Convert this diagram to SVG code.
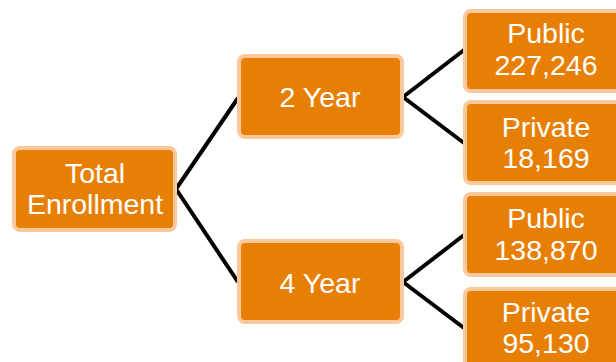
<svg xmlns="http://www.w3.org/2000/svg" width="616" height="362" viewBox="0 0 616 362">
<style>
.box{fill:#E87F05;stroke:#FBC89D;stroke-width:4}
.t{font-family:"Liberation Sans",Arial,sans-serif;font-size:28.5px;fill:#fff;text-anchor:middle}
.c{stroke:#000;stroke-width:4;fill:none}
</style>
<rect width="616" height="362" fill="#fff"/>
<g id="connectors">
<path class="c" d="M176,189 L238,98 M176,189 L238,282"/>
<path class="c" d="M403,97 L464,50 M403,97 L464,143"/>
<path class="c" d="M403,282 L464,235 M403,282 L464,328"/>
</g>
<g id="total">
<rect class="box" x="14" y="148" width="161" height="82" rx="6"/>
<text class="t" x="95" y="183">Total</text>
<text class="t" x="95" y="214">Enrollment</text>
</g>
<g id="year2">
<rect class="box" x="239" y="56" width="163" height="81" rx="6"/>
<text class="t" x="320" y="107">2 Year</text>
</g>
<g id="year4">
<rect class="box" x="239" y="241" width="163" height="81" rx="6"/>
<text class="t" x="320" y="293">4 Year</text>
</g>
<g id="public2">
<rect class="box" x="465" y="11" width="163" height="80" rx="6"/>
<text class="t" x="546" y="43">Public</text>
<text class="t" x="546" y="75">227,246</text>
</g>
<g id="private2">
<rect class="box" x="465" y="102" width="163" height="81" rx="6"/>
<text class="t" x="546" y="137">Private</text>
<text class="t" x="546" y="168">18,169</text>
</g>
<g id="public4">
<rect class="box" x="465" y="194" width="163" height="81" rx="6"/>
<text class="t" x="546" y="228">Public</text>
<text class="t" x="546" y="260">138,870</text>
</g>
<g id="private4">
<rect class="box" x="465" y="289" width="163" height="81" rx="6"/>
<text class="t" x="546" y="322">Private</text>
<text class="t" x="546" y="353">95,130</text>
</g>
</svg>
